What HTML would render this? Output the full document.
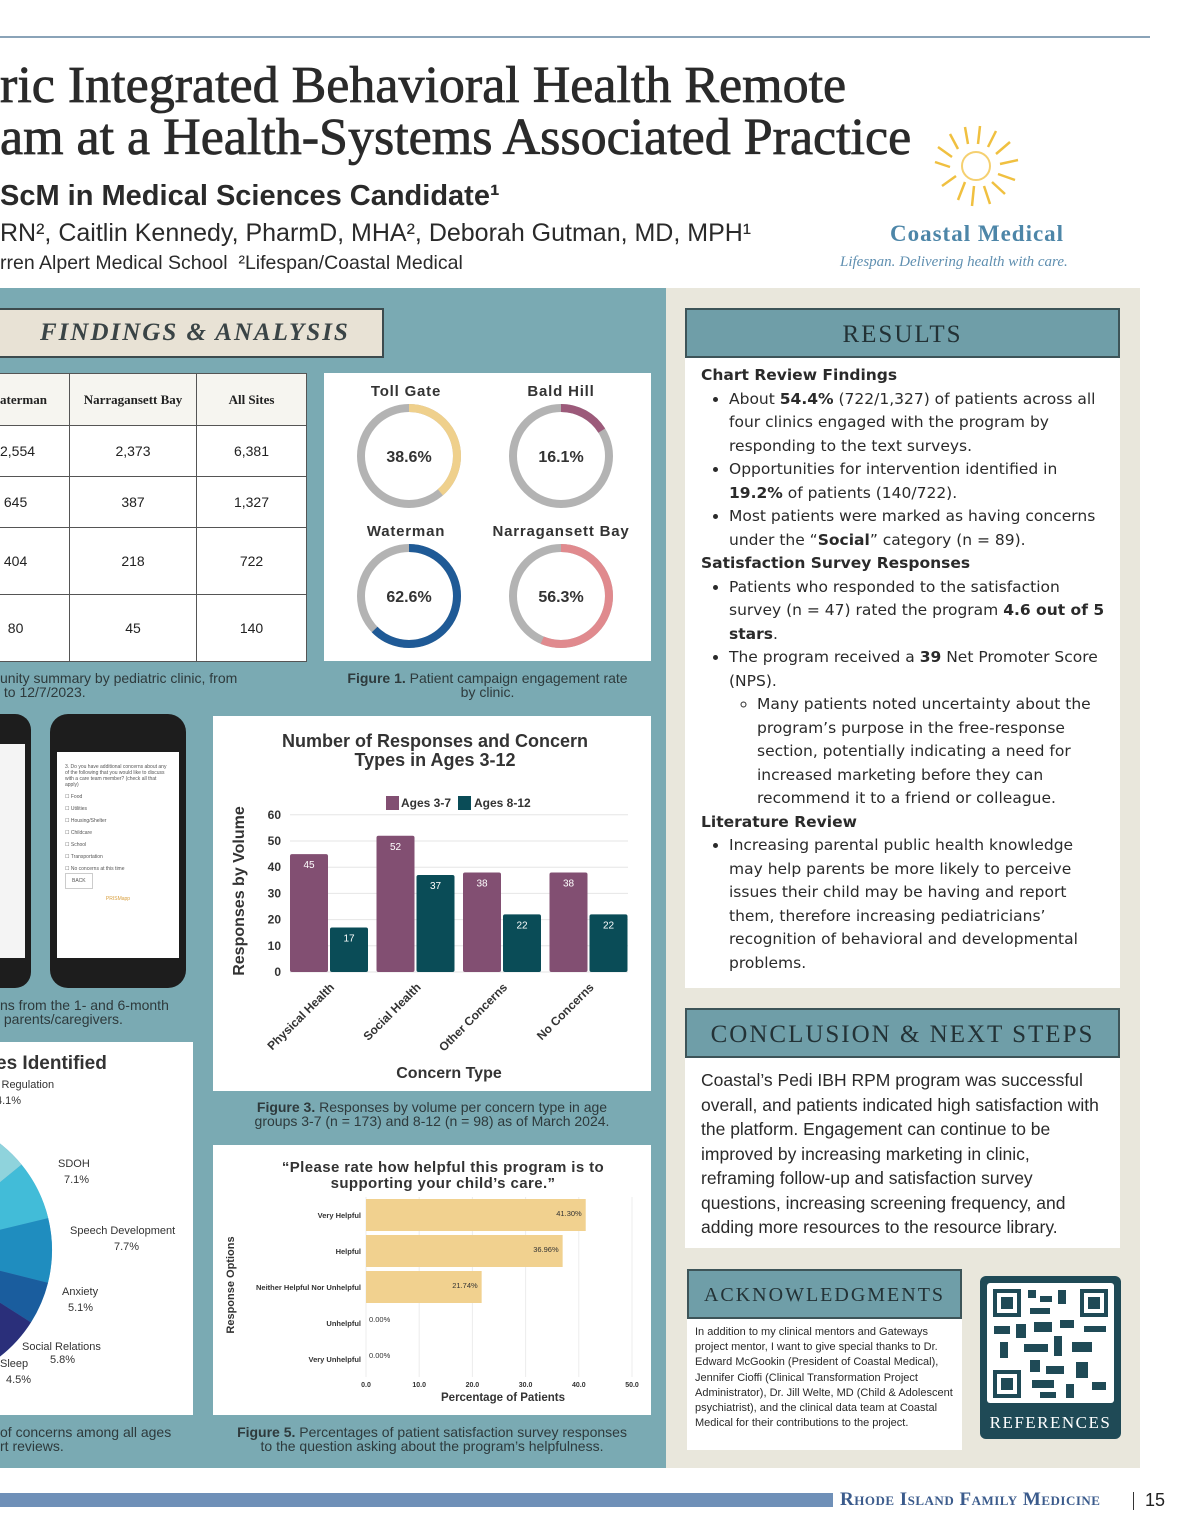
<!DOCTYPE html>
<html><head><meta charset="utf-8">
<style>
*{box-sizing:border-box;margin:0;padding:0}
body{width:1200px;height:1540px;position:relative;background:#fff;font-family:"Liberation Sans","DejaVu Sans",sans-serif;color:#222;overflow:hidden}
.a{position:absolute}
.serif{font-family:"Liberation Serif","DejaVu Serif",serif}
.cap{font-size:14px;color:#2e3a3c;text-align:center;line-height:14px}
.hdr{background:#e8e2d5;border:2px solid #3d4b4e}
.rhdr{background:#6f9ea8;border:2px solid #3d5458;color:#233236;font-family:"Liberation Serif",serif;letter-spacing:2px;text-align:center}
.body{background:#fff;font-size:16.5px;line-height:23.5px;color:#2a2a2a}
ul{padding-left:44px}
td{border:1px solid #555;text-align:center;font-size:14px}
</style></head><body>
<div class="a" style="left:0;top:36px;width:1150px;height:2px;background:#8aa3b8"></div>
<div class="a serif" style="left:0;top:60px;font-size:52px;line-height:52px;color:#2a2a2a;white-space:nowrap;-webkit-text-stroke:0.8px #2a2a2a">ric Integrated Behavioral Health Remote<br>am at a Health-Systems Associated Practice</div>
<div class="a" style="left:0;top:180px;font-size:29px;font-weight:bold;color:#2a2a2a">ScM in Medical Sciences Candidate¹</div>
<div class="a" style="left:0;top:219px;font-size:25px;color:#2a2a2a;white-space:nowrap">RN², Caitlin Kennedy, PharmD, MHA², Deborah Gutman, MD, MPH¹</div>
<div class="a" style="left:0;top:252px;font-size:19.5px;color:#2a2a2a;white-space:nowrap">rren Alpert Medical School &nbsp;²Lifespan/Coastal Medical</div>
<svg class="a" style="left:930px;top:122px" width="95" height="90" viewBox="0 0 95 90">
<g stroke="#f0c040" stroke-width="2.5" fill="none">
<path d="M20 45 L5 40 M22 35 L8 25 M28 27 L20 12 M38 22 L35 5 M48 22 L50 4 M58 25 L66 9 M66 32 L80 20 M70 42 L88 38 M68 52 L85 58 M62 60 L75 72 M54 64 L60 82 M44 64 L42 84 M35 60 L28 78 M26 54 L12 64"/></g>
<circle cx="46" cy="44" r="14" fill="none" stroke="#f5d070" stroke-width="2"/></svg>
<div class="a serif" style="left:890px;top:221px;font-size:23px;color:#4d86a8;letter-spacing:1px;font-weight:bold">Coastal Medical</div>
<div class="a serif" style="left:840px;top:254px;font-size:15px;font-style:italic;color:#5f8fb0">Lifespan. Delivering health with care.</div>

<div class="a" style="left:0;top:288px;width:666px;height:1180px;background:#7aaab3"></div>
<div class="a" style="left:666px;top:288px;width:474px;height:1180px;background:#e9e7dc"></div>

<div class="a hdr serif" style="left:-4px;top:308px;width:388px;height:50px;font-size:25px;font-style:italic;letter-spacing:2px;color:#3a4446;padding:9px 0 0 42px;font-weight:bold">FINDINGS &amp; ANALYSIS</div>

<table class="a" style="left:-1px;top:373px;width:308px;height:288px;border-collapse:collapse;background:#fff">
<tr style="height:52px;background:#f6f5f0"><td class="serif" style="font-weight:bold;font-size:13px;width:70px;text-align:left">aterman</td><td class="serif" style="font-weight:bold;font-size:13px;width:127px">Narragansett Bay</td><td class="serif" style="font-weight:bold;font-size:13px">All Sites</td></tr>
<tr style="height:51px"><td style="text-align:left">2,554</td><td>2,373</td><td>6,381</td></tr>
<tr style="height:51px"><td style="text-align:left">&nbsp;645</td><td>387</td><td>1,327</td></tr>
<tr style="height:67px"><td style="text-align:left">&nbsp;404</td><td>218</td><td>722</td></tr>
<tr style="height:67px"><td style="text-align:left">&nbsp;&nbsp;80</td><td>45</td><td>140</td></tr>
</table>
<div class="a cap" style="left:0;top:671px;text-align:left">unity summary by pediatric clinic, from<br>&nbsp;to 12/7/2023.</div>

<div class="a" style="left:324px;top:373px;width:327px;height:288px;background:#fff"></div>
<svg class="a" id="donuts" style="left:324px;top:373px" width="327" height="288"></svg>
<div class="a cap" style="left:318px;top:671px;width:339px"><b>Figure 1.</b> Patient campaign engagement rate<br>by clinic.</div>

<div class="a" style="left:-20px;top:714px;width:51px;height:274px;background:#1d1d1d;border-radius:16px"><div style="position:absolute;left:6px;top:30px;right:6px;bottom:30px;background:#f4f4f4"></div></div>
<div class="a" style="left:50px;top:714px;width:136px;height:274px;background:#1d1d1d;border-radius:18px">
<div style="position:absolute;left:7px;top:38px;right:7px;bottom:30px;background:#fff;font-size:5px;color:#555;padding:12px 8px">3. Do you have additional concerns about any of the following that you would like to discuss with a care team member? (check all that apply)<br><br>☐ Food<br><br>☐ Utilities<br><br>☐ Housing/Shelter<br><br>☐ Childcare<br><br>☐ School<br><br>☐ Transportation<br><br>☐ No concerns at this time<br><br><span style="border:1px solid #ccc;padding:4px 6px">BACK</span><br><br><br><center style="color:#d9a040">PRISMapp</center></div></div>
<div class="a cap" style="left:0;top:998px;text-align:left">ns from the 1- and 6-month<br>&nbsp;parents/caregivers.</div>

<div class="a" style="left:213px;top:716px;width:438px;height:375px;background:#fff"></div>
<svg class="a" id="bars" style="left:213px;top:716px" width="438" height="375"></svg>
<div class="a cap" style="left:205px;top:1100px;width:454px"><b>Figure 3.</b> Responses by volume per concern type in age<br>groups 3-7 (n = 173) and 8-12 (n = 98) as of March 2024.</div>

<div class="a" style="left:0;top:1042px;width:193px;height:373px;background:#fff"></div>
<svg class="a" id="pie" style="left:0;top:1042px" width="193" height="373"></svg>
<div class="a cap" style="left:0;top:1425px;text-align:left">of concerns among all ages<br>rt reviews.</div>

<div class="a" style="left:213px;top:1145px;width:438px;height:270px;background:#fff"></div>
<svg class="a" id="hbars" style="left:213px;top:1145px" width="438" height="270"></svg>
<div class="a cap" style="left:200px;top:1425px;width:464px"><b>Figure 5.</b> Percentages of patient satisfaction survey responses<br>to the question asking about the program’s helpfulness.</div>

<div class="a rhdr" style="left:685px;top:308px;width:435px;height:50px;font-size:25px;padding-top:11px">RESULTS</div>
<div class="a body" style="left:685px;top:358px;width:435px;height:630px;padding:6px 14px 0 16px;font-family:'DejaVu Sans',sans-serif;font-size:15.5px">
<b>Chart Review Findings</b>
<ul style="padding-left:28px"><li>About <b>54.4%</b> (722/1,327) of patients across all four clinics engaged with the program by responding to the text surveys.</li>
<li>Opportunities for intervention identified in <b>19.2%</b> of patients (140/722).</li>
<li>Most patients were marked as having concerns under the “<b>Social</b>” category (n = 89).</li></ul>
<b>Satisfaction Survey Responses</b>
<ul style="padding-left:28px"><li>Patients who responded to the satisfaction survey (n = 47) rated the program <b>4.6 out of 5 stars</b>.</li>
<li>The program received a <b>39</b> Net Promoter Score (NPS).<ul style="list-style:circle;padding-left:28px"><li>Many patients noted uncertainty about the program’s purpose in the free-response section, potentially indicating a need for increased marketing before they can recommend it to a friend or colleague.</li></ul></li></ul>
<b>Literature Review</b>
<ul style="padding-left:28px"><li>Increasing parental public health knowledge may help parents be more likely to perceive issues their child may be having and report them, therefore increasing pediatricians’ recognition of behavioral and developmental problems.</li></ul></div>

<div class="a rhdr" style="left:685px;top:1008px;width:435px;height:50px;font-size:25px;padding-top:11px">CONCLUSION &amp; NEXT STEPS</div>
<div class="a body" style="left:685px;top:1058px;width:435px;height:190px;padding:10px 14px 0 16px;font-size:17.5px;line-height:24.5px">Coastal’s Pedi IBH RPM program was successful overall, and patients indicated high satisfaction with the platform. Engagement can continue to be improved by increasing marketing in clinic, reframing follow-up and satisfaction survey questions, increasing screening frequency, and adding more resources to the resource library.</div>

<div class="a rhdr" style="left:687px;top:1269px;width:275px;height:50px;font-size:20px;padding-top:13px">ACKNOWLEDGMENTS</div>
<div class="a body" style="left:687px;top:1319px;width:275px;height:131px;padding:6px 8px;font-size:11px;line-height:15.2px">In addition to my clinical mentors and Gateways project mentor, I want to give special thanks to Dr. Edward McGookin (President of Coastal Medical), Jennifer Cioffi (Clinical Transformation Project Administrator), Dr. Jill Welte, MD (Child &amp; Adolescent psychiatrist), and the clinical data team at Coastal Medical for their contributions to the project.</div>

<div class="a" style="left:980px;top:1276px;width:141px;height:163px;background:#1f4a56;border-radius:6px">
<svg width="141" height="130" style="position:absolute;left:0;top:0"><rect x="7" y="7" width="127" height="120" fill="#fff" rx="3"/>
<g fill="#1f4a56"><rect x="13" y="13" width="28" height="28"/><rect x="100" y="13" width="28" height="28"/><rect x="13" y="94" width="28" height="28"/></g>
<g fill="#fff"><rect x="17" y="17" width="20" height="20"/><rect x="104" y="17" width="20" height="20"/><rect x="17" y="98" width="20" height="20"/></g>
<g fill="#1f4a56"><rect x="21" y="21" width="12" height="12"/><rect x="108" y="21" width="12" height="12"/><rect x="21" y="102" width="12" height="12"/>
<rect x="48" y="14" width="8" height="8"/><rect x="60" y="20" width="12" height="6"/><rect x="78" y="14" width="8" height="14"/><rect x="50" y="32" width="20" height="6"/><rect x="14" y="50" width="16" height="8"/><rect x="36" y="48" width="10" height="14"/><rect x="54" y="46" width="18" height="10"/><rect x="80" y="44" width="14" height="8"/><rect x="104" y="50" width="22" height="6"/><rect x="20" y="66" width="8" height="16"/><rect x="44" y="68" width="24" height="8"/><rect x="74" y="60" width="8" height="20"/><rect x="92" y="66" width="20" height="10"/><rect x="50" y="84" width="10" height="12"/><rect x="66" y="90" width="18" height="8"/><rect x="96" y="86" width="12" height="16"/><rect x="52" y="104" width="22" height="8"/><rect x="86" y="108" width="8" height="14"/><rect x="112" y="106" width="14" height="8"/><rect x="60" y="116" width="16" height="6"/></g></svg>
<div class="serif" style="position:absolute;left:0;right:0;top:137px;text-align:center;color:#fff;font-size:17px;letter-spacing:1.5px">REFERENCES</div></div>

<div class="a" style="left:0;top:1493px;width:833px;height:14px;background:#6f90b8"></div>
<div class="a serif" style="left:840px;top:1489px;font-size:19px;color:#3b5b8c;font-variant:small-caps;font-weight:bold;letter-spacing:0.5px">Rhode Island Family Medicine</div>
<div class="a" style="left:1133px;top:1492px;width:1px;height:18px;background:#333"></div>
<div class="a" style="left:1145px;top:1490px;font-size:18px;color:#222">15</div>

<script>
const NS="http://www.w3.org/2000/svg";
function mk(p,t,a,txt){const e=document.createElementNS(NS,t);for(const k in a)e.setAttribute(k,a[k]);if(txt!==undefined)e.textContent=txt;p.appendChild(e);return e;}

// Donuts
const clinics=["Toll Gate","Bald Hill","Waterman","Narragansett Bay"];
const rates=[38.6,16.1,62.6,56.3];
const donutColors=["#efd08c","#9c5a7a","#1f5a96","#e08a8e"];
const dsvg=document.getElementById('donuts');
clinics.forEach((c,i)=>{
  const cx=i%2?237:85, cy=i<2?83:223, r=48;
  const lt=mk(dsvg,'text',{x:i%2?237:82,y:cy-60,'text-anchor':'middle','font-size':15,'font-weight':'bold',fill:'#333','letter-spacing':'0.8'},c);
  
  
  const base=mk(dsvg,'circle',{cx,cy,r,fill:'none',stroke:'#b3b3b3','stroke-width':8});
  
  
  const C=2*Math.PI*r;
  const arc=mk(dsvg,'circle',{cx,cy,r,fill:'none',stroke:donutColors[i],'stroke-width':8,'stroke-dasharray':(C*rates[i]/100)+' '+C,transform:`rotate(-90 ${cx} ${cy})`});
  
  
  const v=mk(dsvg,'text',{x:cx,y:cy+6,'text-anchor':'middle','font-size':16,'font-weight':'bold',fill:'#333'},rates[i].toFixed(1)+'%');
  
  
});

// Bar chart
const concernTypes=["Physical Health","Social Health","Other Concerns","No Concerns"];
const ages37=[45,52,38,38];
const ages812=[17,37,22,22];
const yTicks=[0,10,20,30,40,50,60];
const bs=document.getElementById('bars');
const y0=256,yScale=v=>y0-v*2.62,gx=i=>77+i*86.5;
const t1=mk(bs,'text',{x:222,y:31,'text-anchor':'middle','font-size':18,'font-weight':'bold',fill:'#333'},'Number of Responses and Concern');

mk(bs,'text',{x:222,y:50,'text-anchor':'middle','font-size':18,'font-weight':'bold',fill:'#333'},'Types in Ages 3-12');
mk(bs,'rect',{x:173,y:80,width:13,height:14,fill:'#824f72'});
mk(bs,'text',{x:188,y:91,'font-size':12,'font-weight':'bold',fill:'#333'},'Ages 3-7');
mk(bs,'rect',{x:245,y:80,width:13,height:14,fill:'#0a4c57'});
mk(bs,'text',{x:261,y:91,'font-size':12,'font-weight':'bold',fill:'#333'},'Ages 8-12');
yTicks.forEach(t=>{
  const g=mk(bs,'line',{x1:77,x2:415,y1:yScale(t),y2:yScale(t),stroke:'#e6e6e6'});
  
  const l=mk(bs,'text',{x:68,y:yScale(t)+4,'text-anchor':'end','font-size':12,'font-weight':'bold',fill:'#333'},t);
  
});
concernTypes.forEach((c,i)=>{
  [[ages37,'#824f72',0],[ages812,'#0a4c57',1]].forEach(([arr,col,k])=>{
    const x=gx(i)+k*40, v=arr[i];
    const b=mk(bs,'rect',{x,y:yScale(v),width:38,height:v*2.62,fill:col,rx:2});
    
    const vl=mk(bs,'text',{x:x+19,y:yScale(v)+14,'text-anchor':'middle','font-size':10,fill:'#fff'},v);
    
  });
  const xl=mk(bs,'text',{x:gx(i)+45,y:272,'text-anchor':'end','font-size':12,'font-weight':'bold',fill:'#333',transform:`rotate(-45 ${gx(i)+45} 272)`},c);
  
});
const yt=mk(bs,'text',{x:31,y:175,'text-anchor':'middle','font-size':16,'font-weight':'bold',fill:'#333',transform:'rotate(-90 31 175)'},'Responses by Volume');

const xt=mk(bs,'text',{x:236,y:362,'text-anchor':'middle','font-size':16,'font-weight':'bold',fill:'#333'},'Concern Type');


// Pie (partially cropped)
const pieLabels=["Regulation","SDOH","Speech Development","Anxiety","Social Relations","Sleep"];
const pieValues=[14.1,7.1,7.7,5.1,5.8,4.5];
const pieColors=["#8fd3dc","#42bcd8","#1f8dbf","#1a5d9e","#2a2f7a","#6a2f6e"];
const ps=document.getElementById('pie');
const pt=mk(ps,'text',{x:-4,y:27,'font-size':19,'font-weight':'bold',fill:'#333'},'es Identified');

const pcx=-83,pcy=208,pr=135;
mk(ps,'circle',{cx:pcx,cy:pcy,r:pr,fill:'#5aa0c8'});
let ang=-90;
pieValues.forEach((v,i)=>{
  const a1=ang*Math.PI/180, a2=(ang+v*3.6)*Math.PI/180;
  const d=`M${pcx},${pcy} L${pcx+pr*Math.cos(a1)},${pcy+pr*Math.sin(a1)} A${pr},${pr} 0 0 1 ${pcx+pr*Math.cos(a2)},${pcy+pr*Math.sin(a2)} Z`;
  const s=mk(ps,'path',{d,fill:pieColors[i]});
  
  ang+=v*3.6;
});
const pieLabelPos=[[0,46],[58,125],[70,192],[62,253],[22,308],[0,325]];
pieLabels.forEach((l,i)=>{
  const [x,y]=pieLabelPos[i];
  const lt=mk(ps,'text',{x:i==0?-4:x,y,'font-size':11,fill:'#333'},i==0?'l Regulation':l);
  
  const vx=i==2?x+44:(i==4?x+28:(i==0?-4:x+6));
  mk(ps,'text',{x:vx,y:i==4?y+13:y+16,'font-size':11,fill:'#333'},(i==0?'4.1':pieValues[i].toFixed(1))+'%');
});

// Horizontal bar chart
const options=["Very Helpful","Helpful","Neither Helpful Nor Unhelpful","Unhelpful","Very Unhelpful"];
const pcts=[41.30,36.96,21.74,0,0];
const xTicks=[0,10,20,30,40,50];
const hs=document.getElementById('hbars');
const xS=v=>153+v*5.32, rowY=i=>54+i*36;
mk(hs,'text',{x:230,y:27,'text-anchor':'middle','font-size':15,'font-weight':'bold',fill:'#333','letter-spacing':'0.4'},'“Please rate how helpful this program is to');
mk(hs,'text',{x:230,y:43,'text-anchor':'middle','font-size':15,'font-weight':'bold',fill:'#333','letter-spacing':'0.4'},'supporting your child’s care.”');
xTicks.forEach(t=>{
  const g=mk(hs,'line',{x1:xS(t),x2:xS(t),y1:52,y2:232,stroke:'#ececec'});
  
  const l=mk(hs,'text',{x:xS(t),y:242,'text-anchor':'middle','font-size':7,'font-weight':'bold',fill:'#333'},t.toFixed(1));
  
});
options.forEach((o,i)=>{
  const b=mk(hs,'rect',{x:xS(0),y:rowY(i),width:pcts[i]*5.32,height:32,fill:'#f1d18f'});
  
  const l=mk(hs,'text',{x:148,y:rowY(i)+19,'text-anchor':'end','font-size':7.5,'font-weight':'bold',fill:'#333'},o);
  
  const vl=pcts[i]>0?mk(hs,'text',{x:xS(pcts[i])-4,y:rowY(i)+17,'text-anchor':'end','font-size':7.5,fill:'#333'},pcts[i].toFixed(2)+'%'):mk(hs,'text',{x:xS(0)+3,y:rowY(i)+15,'font-size':7.5,fill:'#333'},pcts[i].toFixed(2)+'%');
  
});
mk(hs,'text',{x:290,y:256,'text-anchor':'middle','font-size':11.5,'font-weight':'bold',fill:'#333'},'Percentage of Patients');
mk(hs,'text',{x:21,y:140,'text-anchor':'middle','font-size':11,'font-weight':'bold',fill:'#333',transform:'rotate(-90 21 140)'},'Response Options');
</script>
</body></html>
